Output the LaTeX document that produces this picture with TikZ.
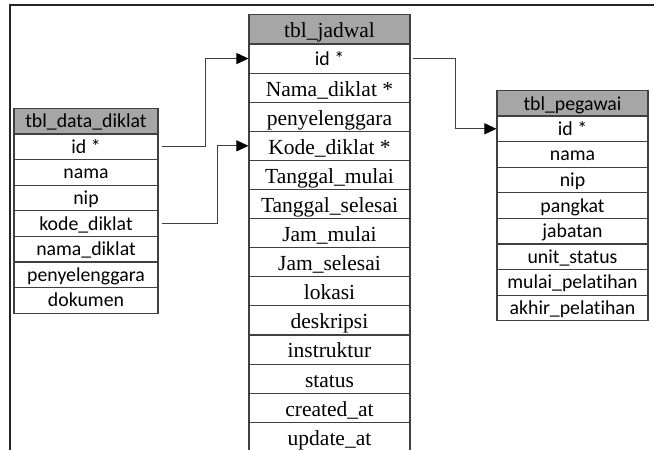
\documentclass[tikz,border=0pt]{standalone}
\usepackage{fontspec}
\setmainfont{Liberation Serif}
\setsansfont[Ligatures={NoCommon,NoContextual}, Contextuals=NoAlternate, RawFeature={-dlig}]{Carlito}
\usetikzlibrary{arrows.meta,positioning,calc}
\definecolor{hdrG}{RGB}{166,166,166}
\definecolor{lineK}{RGB}{64,64,64}

\begin{document}
\begin{tikzpicture}[
  x=0.5pt, y=-0.5pt,
  cell/.style={draw=lineK, line width=0.55pt, inner sep=0pt, align=center},
  sanscell/.style={cell, font=\sffamily\fontsize{9.9}{11}\selectfont, text height=7.3pt, text depth=0.8pt},
  serifcell/.style={cell, font=\rmfamily\fontsize{10.75}{12}\selectfont, text height=9.2pt, text depth=0.8pt},
  head/.style={fill=hdrG},
  dd/.style={sanscell, minimum width=72pt, minimum height=12.8pt},
  jd/.style={serifcell, minimum width=80.5pt, minimum height=14.55pt},
  pg/.style={sanscell, minimum width=75.5pt, minimum height=12.8pt},
  link/.style={draw=lineK, line width=0.5pt, -{Triangle[length=6pt,width=5.5pt,color=black]}},
  frame/.style={line width=1pt, black!85}
]
\clip (0,0) rectangle (654,450);
\draw[frame] (10,452) -- (10,5) -- (656,5);

% tbl_data_diklat
\node[dd, head] (dd0) at (86,121) {tbl\_data\_diklat};
\foreach \t [count=\i] in {id *, nama, nip, kode\_diklat, nama\_diklat, penyelenggara, dokumen}
  \node[dd] (dd\i) at (86,{134+25.6*(\i-0.5)}) {\t};

% tbl_jadwal
\node[jd, head] (jd0) at (329.5,29) {tbl\_jadwal};
\node[jd, sanscell] (jd1) at (329.5,58.55) {id *};
\foreach \t [count=\i from 2] in {Nama\_diklat *, penyelenggara, Kode\_diklat *, Tanggal\_mulai,
    Tanggal\_selesai, Jam\_mulai, Jam\_selesai, lokasi, deskripsi, instruktur, status,
    created\_at, update\_at}
  \node[jd] (jd\i) at (329.5,{44+29.1*(\i-0.5)}) {\t};

% tbl_pegawai
\node[pg, head] (pg0) at (572.5,103.5) {tbl\_pegawai};
\foreach \t [count=\i] in {id *, nama, nip, pangkat, jabatan, unit\_status,
    mulai\_pelat\kern0pt ihan, akhir\_pelat\kern0pt ihan}
  \node[pg] (pg\i) at (572.5,{116+25.6*(\i-0.5)}) {\t};

% relasi
\draw[link] ([xshift=1.5pt]dd1.east) -- ++(44,0) |- (jd1.west);
\draw[link] ([xshift=1.5pt]dd4.east) -- ++(56,0) |- (jd4.west);
\draw[link] ([xshift=1pt]jd1.east) -- ++(43,0) |- (pg1.west);
\end{tikzpicture}
\end{document}
